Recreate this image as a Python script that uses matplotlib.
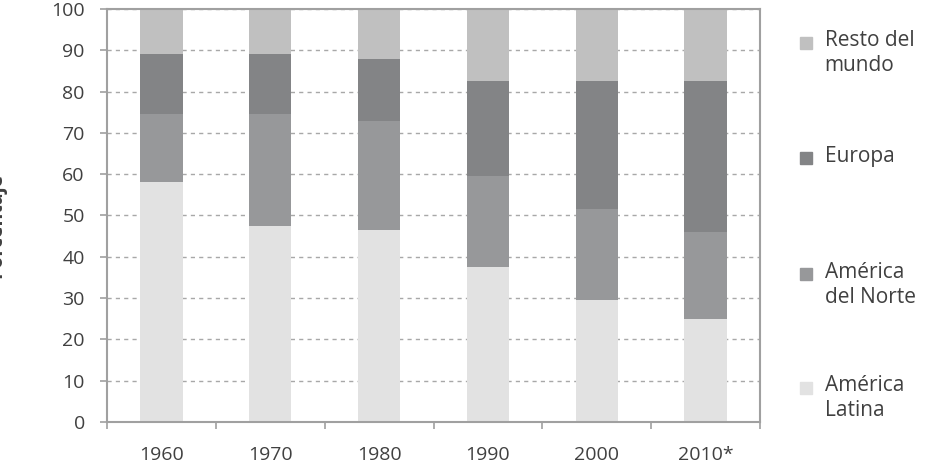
import matplotlib.pyplot as plt
from matplotlib.patches import Rectangle
import numpy as np

plt.rcParams['font.family'] = ['Open Sans', 'DejaVu Sans']

years = ['1960', '1970', '1980', '1990', '2000', '2010*']
america_latina = [58, 47.5, 46.5, 37.5, 29.5, 25]
america_norte = [16.5, 27, 26.5, 22, 22, 21]
europa = [14.5, 14.5, 15, 23, 31, 36.5]
resto = [11, 11, 12, 17.5, 17.5, 17.5]

series = [america_latina, america_norte, europa, resto]
labels = ['América\nLatina', 'América\ndel Norte', 'Europa', 'Resto del\nmundo']
colors = ['#e2e2e2', '#97989a', '#838486', '#c0c0c0']

fig = plt.figure(figsize=(9.34, 4.73), dpi=100)
ax = fig.add_axes([0.1146, 0.1078, 0.6991, 0.8732])

x = np.arange(len(years))
bottom = np.zeros(len(years))
for vals, c in zip(series, colors):
    ax.bar(x, vals, width=0.39, bottom=bottom, color=c, zorder=2)
    bottom += np.array(vals)

ax.set_xlim(-0.5, len(years) - 0.5)
ax.set_ylim(0, 100)
ax.set_yticks(range(0, 101, 10))
ax.set_xticks(x)
ax.set_xticklabels(years)
ax.set_xticks(np.arange(-0.5, len(years)), minor=True)

ax.grid(axis='y', linestyle=(0, (3, 3)), color='#a8a8a8', linewidth=1, zorder=0)
for s in ax.spines.values():
    s.set_color('#a0a0a0')
    s.set_linewidth(1.5)

ax.tick_params(axis='y', length=5, color='#a0a0a0', width=1.2, pad=11,
               labelsize=14, labelcolor='#404040')
ax.tick_params(axis='x', which='major', length=0, pad=17,
               labelsize=14, labelcolor='#404040')
ax.tick_params(axis='x', which='minor', length=5, color='#a0a0a0', width=1.2)

fig.text(6 / 934, 0.524, 'Porcentaje', rotation=90, ha='right', va='center',
         fontsize=14, fontweight='bold', color='#404040')

# legend, top to bottom
leg_y = [0.948, 0.668, 0.388, 0.113]
for lab, c, ly in zip(labels[::-1], colors[::-1], leg_y):
    ax.add_patch(Rectangle((1.061, ly - 0.044), 0.018, 0.029, transform=ax.transAxes,
                           color=c, clip_on=False))
    ax.text(1.099, ly, lab, transform=ax.transAxes, va='top', ha='left',
            fontsize=15, color='#404040', linespacing=1.25)

fig.savefig('out.png', dpi=100)
